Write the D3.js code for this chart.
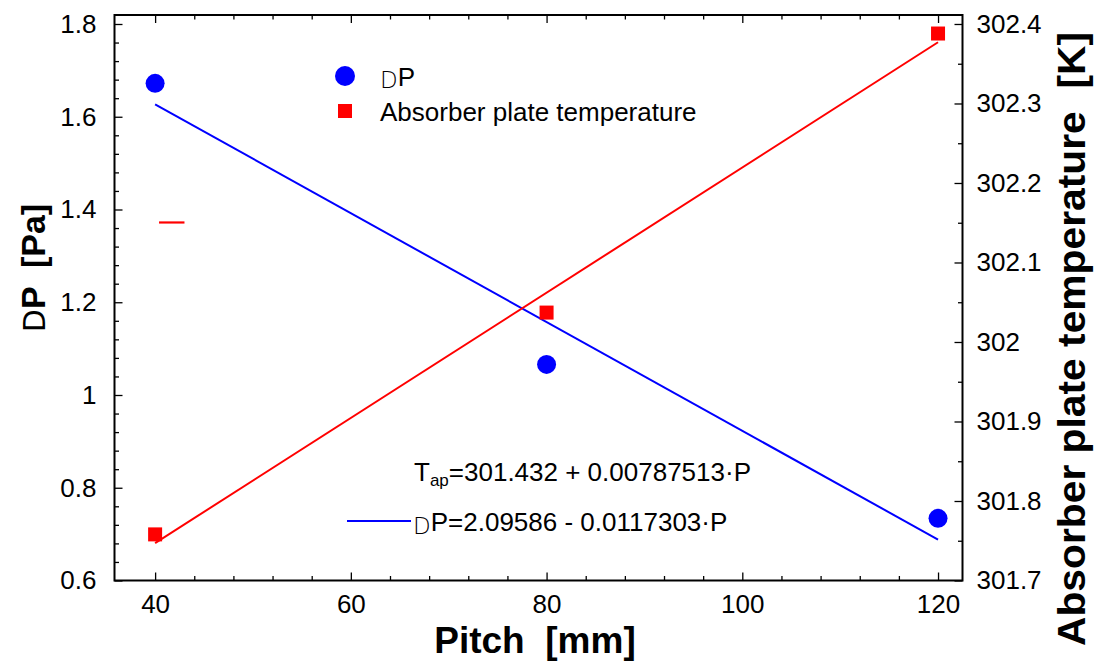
<!DOCTYPE html>
<html>
<head>
<meta charset="utf-8">
<script src="https://cdn.jsdelivr.net/npm/d3@7"></script>
<style>
  html, body { margin: 0; padding: 0; background: #fff; }
  svg { display: block; font-family: "Liberation Sans", Arial, sans-serif; }
</style>
</head>
<body>
<svg id="chart" width="1094" height="664"></svg>
<script>
// ---- data ----
const pitch = [40, 80, 120];
const deltaP = [1.672, 1.066, 0.734];
const plateTemp = [301.758, 302.037, 302.388];
const xTicks = [40, 60, 80, 100, 120];
const yLeftTicks = [0.6, 0.8, 1.0, 1.2, 1.4, 1.6, 1.8];
const yLeftTickLabels = ["0.6", "0.8", "1", "1.2", "1.4", "1.6", "1.8"];
const yRightTicks = [301.7, 301.8, 301.9, 302.0, 302.1, 302.2, 302.3, 302.4];
const yRightTickLabels = ["301.7", "301.8", "301.9", "302", "302.1", "302.2", "302.3", "302.4"];
const dpFit = [2.09586, -0.0117303];      // intercept, slope
const tapFit = [301.432, 0.00787513];     // intercept, slope
const fitRange = [40, 120];
const strayDashX = [40.4, 43.0];
const strayDashY = 1.372;
const legendLabels = ["P", "Absorber plate temperature"];

const svg = d3.select("#chart");
const L = 114.5, R = 962.5, T = 15, B = 580.5;

const x = d3.scaleLinear().domain([35.85, 122.5]).range([L, R]);
const yL = d3.scaleLinear().domain([0.6, 1.8194]).range([B, T]);
const yR = d3.scaleLinear().domain([301.7, 302.4113]).range([B, T]);

const blue = "#0000ff", red = "#ff0000";

// minor tick helpers
const xMinor = d3.range(36, 123, 4);
const yLMinor = d3.range(0, 31).map(i => +(0.6 + i * 0.04).toFixed(2)).filter(v => v <= 1.81);
const yRMinor = d3.range(0, 15).map(i => +(301.7 + i * 0.05).toFixed(2)).filter(v => v <= 302.41);

const g = svg.append("g");
const styleTicks = s => { s.select(".domain").remove(); s.selectAll("line").attr("stroke", "#000").attr("stroke-width", 1.3); };
const styleLabels = s => s.selectAll(".tick text").attr("font-size", 26).attr("font-family", "Liberation Sans, Arial, sans-serif").attr("fill", "#000");

// bottom axis
g.append("g").attr("transform", `translate(0,${B})`)
  .call(d3.axisBottom(x).tickValues(xTicks).tickSize(-8).tickPadding(14).tickFormat(d3.format("d")))
  .call(styleTicks).call(styleLabels);
g.append("g").attr("transform", `translate(0,${B})`)
  .call(d3.axisBottom(x).tickValues(xMinor.filter(v => !xTicks.includes(v) && x(v) > L + 2 && x(v) < R - 2)).tickSize(-4.5).tickFormat(""))
  .call(styleTicks);

// top axis (ticks only)
g.append("g").attr("transform", `translate(0,${T})`)
  .call(d3.axisTop(x).tickValues(xTicks).tickSize(-8).tickFormat(""))
  .call(styleTicks);
g.append("g").attr("transform", `translate(0,${T})`)
  .call(d3.axisTop(x).tickValues(xMinor.filter(v => !xTicks.includes(v) && x(v) > L + 2 && x(v) < R - 2)).tickSize(-4.5).tickFormat(""))
  .call(styleTicks);

// left axis
g.append("g").attr("transform", `translate(${L},0)`)
  .call(d3.axisLeft(yL).tickValues(yLeftTicks).tickSize(-8).tickPadding(18).tickFormat((d, i) => yLeftTickLabels[i]))
  .call(styleTicks).call(styleLabels);
g.append("g").attr("transform", `translate(${L},0)`)
  .call(d3.axisLeft(yL).tickValues(yLMinor.filter(v => !yLeftTicks.some(t => Math.abs(t - v) < 1e-6))).tickSize(-4.5).tickFormat(""))
  .call(styleTicks);

// right axis
g.append("g").attr("transform", `translate(${R},0)`)
  .call(d3.axisRight(yR).tickValues(yRightTicks).tickSize(-8).tickPadding(14).tickFormat((d, i) => yRightTickLabels[i]))
  .call(styleTicks).call(styleLabels);
g.append("g").attr("transform", `translate(${R},0)`)
  .call(d3.axisRight(yR).tickValues(yRMinor.filter(v => !yRightTicks.some(t => Math.abs(t - v) < 1e-6))).tickSize(-4.5).tickFormat(""))
  .call(styleTicks);

// frame
g.append("rect").attr("x", L).attr("y", T).attr("width", R - L).attr("height", B - T)
  .attr("fill", "none").attr("stroke", "#000").attr("stroke-width", 2);

// fit lines
const line = d3.line().x(d => d[0]).y(d => d[1]);
g.append("path")
  .attr("d", line(fitRange.map(p => [x(p), yL(dpFit[0] + dpFit[1] * p)])))
  .attr("stroke", blue).attr("stroke-width", 2).attr("fill", "none");
g.append("path")
  .attr("d", line(fitRange.map(p => [x(p), yR(tapFit[0] + tapFit[1] * p)])))
  .attr("stroke", red).attr("stroke-width", 2).attr("fill", "none");

// stray red dash
g.append("path")
  .attr("d", line(strayDashX.map(p => [x(p), yL(strayDashY)])))
  .attr("stroke", red).attr("stroke-width", 2.2).attr("fill", "none");

// points
g.selectAll("circle.dp").data(pitch).enter().append("circle")
  .attr("class", "dp")
  .attr("cx", d => x(d)).attr("cy", (d, i) => yL(deltaP[i])).attr("r", 9.5).attr("fill", blue);
const sq = 14;
g.selectAll("rect.tap").data(pitch).enter().append("rect")
  .attr("class", "tap")
  .attr("x", d => x(d) - sq / 2).attr("y", (d, i) => yR(plateTemp[i]) - sq / 2)
  .attr("width", sq).attr("height", sq).attr("fill", red);

// legend
const lg = svg.append("g");
lg.append("circle").attr("cx", 345).attr("cy", 76).attr("r", 10).attr("fill", blue);
const t1 = lg.append("text").attr("x", 380).attr("y", 86).attr("font-size", 26).attr("fill", "#000");
t1.append("tspan").attr("font-family", "DejaVu Sans").attr("font-weight", 200).attr("font-size", 23).attr("dy", 2).text("D");
t1.append("tspan").attr("dy", -2).text(legendLabels[0]);
lg.append("rect").attr("x", 338).attr("y", 104).attr("width", sq).attr("height", sq).attr("fill", red);
lg.append("text").attr("x", 380).attr("y", 121).attr("font-size", 26).attr("fill", "#000").text(legendLabels[1]);

// equations
const e1 = svg.append("text").attr("x", 414).attr("y", 481).attr("font-size", 26).attr("fill", "#000");
e1.append("tspan").text("T");
e1.append("tspan").attr("font-size", 17).attr("dy", 5).text("ap");
e1.append("tspan").attr("dy", -5).text("=301.432 + 0.00787513\u00b7P");

svg.append("line").attr("x1", 347).attr("x2", 411).attr("y1", 521).attr("y2", 521)
  .attr("stroke", blue).attr("stroke-width", 2);
const e2 = svg.append("text").attr("x", 413).attr("y", 531).attr("font-size", 26).attr("fill", "#000");
e2.append("tspan").attr("font-family", "DejaVu Sans").attr("font-weight", 200).attr("font-size", 23).attr("dy", 3).text("D");
e2.append("tspan").attr("dy", -3).text("P=2.09586 - 0.0117303\u00b7P");

// axis titles
svg.append("text").attr("x", 535).attr("y", 653).attr("text-anchor", "middle")
  .attr("font-size", 37).attr("font-weight", "bold").attr("fill", "#000")
  .attr("xml:space", "preserve").text("Pitch  [mm]");

const lt = svg.append("text").attr("transform", "translate(45,268) rotate(-90)")
  .attr("text-anchor", "middle").attr("font-size", 34).attr("font-weight", "bold").attr("fill", "#000")
  .attr("xml:space", "preserve");
lt.append("tspan").attr("font-family", "DejaVu Sans").attr("font-weight", "normal").attr("font-size", 30).text("D");
lt.append("tspan").text("P  [Pa]");

svg.append("text").attr("transform", "translate(1085,339) rotate(-90)")
  .attr("text-anchor", "middle").attr("font-size", 38).attr("font-weight", "bold").attr("fill", "#000")
  .attr("textLength", 614).attr("lengthAdjust", "spacingAndGlyphs")
  .attr("xml:space", "preserve").text("Absorber plate temperature  [K]");
</script>
</body>
</html>
